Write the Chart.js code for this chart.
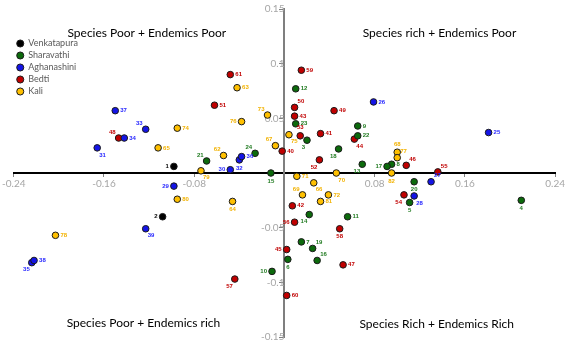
<!DOCTYPE html>
<html>
<head>
<meta charset="utf-8">
<script src="https://cdn.jsdelivr.net/npm/chart.js@4.4.1/dist/chart.umd.min.js"></script>
<style>
  body { margin: 0; background: #fff; }
  #wrap { width: 567px; height: 346px; }
</style>
</head>
<body>
<div id="wrap"><canvas id="pcaChart" width="567" height="346"></canvas></div>
<script>
// Site numbers and scores for each river basin
const venkIds = [1, 2];
const venkX = [-0.098, -0.108];
const venkY = [0.006, -0.040];

const sharIds = [3, 4, 5, 6, 7, 8, 9, 10, 11, 12, 13, 14, 15, 16, 17, 18, 19, 20, 21, 22, 23, 24];
const sharX = [0.020, 0.210, 0.111, 0.003, 0.015, 0.095, 0.065, -0.011, 0.056, 0.010, 0.069, 0.022, -0.012, 0.029, 0.091, 0.048, 0.025, 0.115, -0.069, 0.065, 0.010, -0.026];
const sharY = [0.030, -0.025, -0.027, -0.079, -0.063, 0.008, 0.043, -0.090, -0.040, 0.077, 0.008, -0.038, 0.000, -0.080, 0.006, 0.022, -0.069, -0.008, 0.011, 0.034, 0.045, 0.018];

const aghaIds = [25, 26, 27, 28, 29, 30, 31, 32, 33, 34, 35, 36, 37, 38, 39];
const aghaX = [0.181, 0.079, 0.130, 0.115, -0.098, -0.048, -0.166, -0.040, -0.123, -0.142, -0.224, -0.038, -0.150, -0.222, -0.123];
const aghaY = [0.037, 0.065, -0.008, -0.021, -0.012, 0.003, 0.023, 0.012, 0.040, 0.032, -0.082, 0.015, 0.057, -0.080, -0.051];

const bedtIds = [40, 41, 42, 43, 44, 45, 46, 47, 48, 49, 50, 51, 52, 53, 54, 55, 56, 57, 58, 59, 60, 61];
const bedtX = [-0.002, 0.032, 0.007, 0.009, 0.062, 0.002, 0.108, 0.052, -0.147, 0.044, 0.009, -0.062, 0.031, 0.014, 0.106, 0.136, 0.009, -0.044, 0.049, 0.015, 0.002, -0.048];
const bedtY = [0.020, 0.036, -0.030, 0.052, 0.031, -0.070, 0.007, -0.084, 0.032, 0.057, 0.060, 0.062, 0.012, 0.034, -0.020, 0.001, -0.045, -0.097, -0.051, 0.094, -0.112, 0.090];

const kaliIds = [62, 63, 64, 65, 66, 67, 68, 69, 70, 71, 72, 73, 74, 75, 76, 77, 78, 79, 80, 81, 82];
const kaliX = [-0.054, -0.042, -0.046, -0.112, 0.026, -0.008, 0.100, 0.016, 0.046, 0.011, 0.039, -0.015, -0.095, 0.004, -0.038, 0.100, -0.203, -0.074, -0.095, 0.032, 0.095];
const kaliY = [0.016, 0.078, -0.026, 0.023, -0.009, 0.025, 0.019, -0.020, 0.000, -0.003, -0.020, 0.053, 0.041, 0.035, 0.047, 0.014, -0.057, 0.002, -0.024, -0.026, 0.000];

const groupNames = ['Venkatapura', 'Sharavathi', 'Aghanashini', 'Bedti', 'Kali'];
const xTicks = [-0.24, -0.16, -0.08, 0, 0.08, 0.16, 0.24];
const yTicks = [-0.15, -0.1, -0.05, 0, 0.05, 0.1, 0.15];
const quadrantNames = ['Species Poor + Endemics Poor', 'Species rich + Endemics Poor', 'Species Poor + Endemics rich', 'Species Rich + Endemics Rich'];

// styling, kept apart from the data
const fillColors = ['#000000', '#0c6a0c', '#1414e6', '#c00000', '#ffc000'];
const textColors = ['#000000', '#1f7a1f', '#1f1fff', '#c00000', '#f2b200'];
const quadrantAt = [[-0.122, 0.128], [0.1375, 0.128], [-0.125, -0.137], [0.135, -0.138]];
// where the site number sits next to its marker (default right)
const labelSide = {
  1: 'l', 2: 'l', 3: 'bl', 4: 'b', 5: 'b', 6: 'b', 10: 'l', 13: 'bl', 14: 'bl', 15: 'b', 16: 'tr',
  17: 'l', 18: 'bl', 19: 'tr', 20: 'b', 21: 'tl', 24: 'tl',
  27: 'tr', 28: 'br', 29: 'l', 30: 'l', 31: 'br', 32: 'b', 33: 'tl', 35: 'bl', 39: 'br',
  44: 'br', 45: 'l', 46: 'tr', 48: 'tl', 50: 'tr', 52: 'bl', 53: 't', 54: 'bl', 55: 'tr', 56: 'l', 57: 'bl', 58: 'b',
  62: 'tl', 64: 'b', 66: 'br', 67: 'tl', 68: 't', 69: 'tl', 70: 'br', 73: 'tl', 75: 'br', 76: 'l', 77: 'tr', 79: 'br', 82: 'b'
};

function toPoints(xs, ys) {
  return xs.map((x, i) => ({ x: x, y: ys[i] }));
}

const groupData = [
  [venkIds, venkX, venkY],
  [sharIds, sharX, sharY],
  [aghaIds, aghaX, aghaY],
  [bedtIds, bedtX, bedtY],
  [kaliIds, kaliX, kaliY]
];

const datasets = groupData.map((g, i) => ({
  label: groupNames[i],
  ids: g[0],
  data: toPoints(g[1], g[2]),
  backgroundColor: fillColors[i],
  borderColor: '#1a1a1a',
  borderWidth: 1,
  pointRadius: 3.3,
  pointStyle: 'circle'
}));

// draws the site numbers and the four quadrant captions
const labelPlugin = {
  id: 'siteLabels',
  afterDatasetsDraw(chart) {
    const ctx = chart.ctx;
    ctx.save();
    ctx.font = 'bold 6px "Liberation Sans"';
    chart.data.datasets.forEach((ds, i) => {
      const meta = chart.getDatasetMeta(i);
      ctx.fillStyle = textColors[i];
      meta.data.forEach((pt, j) => {
        const id = ds.ids[j];
        const side = labelSide[id] || 'r';
        let dx = 5, dy = 0, align = 'left';
        if (side === 'l') { dx = -5; align = 'right'; }
        if (side === 'b') { dx = 0; dy = 8; align = 'center'; }
        if (side === 't') { dx = 0; dy = -8; align = 'center'; }
        if (side === 'br') { dx = 2; dy = 7; }
        if (side === 'tr') { dx = 3; dy = -6; }
        if (side === 'bl') { dx = -2; dy = 7; align = 'right'; }
        if (side === 'tl') { dx = -3; dy = -6; align = 'right'; }
        ctx.textAlign = align;
        ctx.textBaseline = 'middle';
        ctx.fillText(String(id), pt.x + dx, pt.y + dy);
      });
    });

    const xs = chart.scales.x, ys = chart.scales.y;
    ctx.font = '12px Lato';
    ctx.fillStyle = '#000';
    ctx.textAlign = 'center';
    ctx.textBaseline = 'middle';
    quadrantNames.forEach((t, k) => {
      ctx.fillText(t, xs.getPixelForValue(quadrantAt[k][0]), ys.getPixelForValue(quadrantAt[k][1]));
    });
    ctx.restore();
  }
};

function tickText(v) {
  return Math.abs(v) < 1e-9 ? '' : String(+v.toFixed(2));
}

const ctx = document.getElementById('pcaChart').getContext('2d');
const pcaChart = new Chart(ctx, {
  type: 'scatter',
  data: { datasets: datasets },
  options: {
    responsive: false,
    animation: false,
    layout: { padding: { left: 4, right: 10, top: 9, bottom: 9 } },
    plugins: {
      tooltip: { enabled: false },
      legend: {
        position: 'chartArea',
        align: 'start',
        title: { display: true, text: '', font: { size: 10 }, padding: { top: 24, bottom: 0 } },
        labels: {
          usePointStyle: true,
          boxWidth: 7,
          boxHeight: 5,
          padding: 3,
          color: '#595959',
          font: { size: 9, family: 'Lato' }
        }
      }
    },
    scales: {
      x: {
        type: 'linear',
        min: -0.24,
        max: 0.24,
        position: { y: 0 },
        afterBuildTicks: s => { s.ticks = xTicks.map(v => ({ value: v })); },
        grid: { drawOnChartArea: false, drawTicks: true, tickLength: 3, color: '#808080' },
        border: { display: true, color: '#000', width: 2 },
        ticks: { color: '#a6a6a6', font: { size: 10, family: 'Lato' }, padding: 2, callback: tickText }
      },
      y: {
        type: 'linear',
        min: -0.15,
        max: 0.15,
        position: { x: 0 },
        afterBuildTicks: s => { s.ticks = yTicks.map(v => ({ value: v })); },
        grid: { drawOnChartArea: false, drawTicks: true, tickLength: 4, color: '#808080' },
        border: { display: true, color: '#7f7f7f', width: 2 },
        ticks: { color: '#a6a6a6', font: { size: 10, family: 'Lato' }, padding: 2, callback: tickText }
      }
    }
  },
  plugins: [labelPlugin]
});
</script>
</body>
</html>
